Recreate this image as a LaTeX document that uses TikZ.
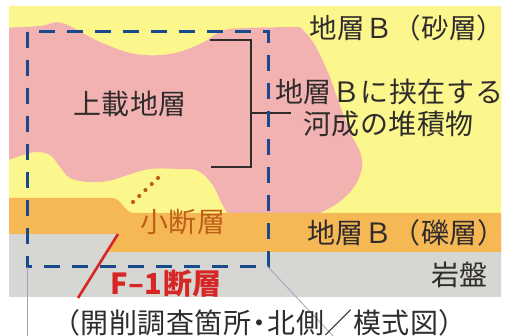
\documentclass[tikz,border=0pt]{standalone}
\usepackage{fontspec}
\usetikzlibrary{calc}
\newfontfamily\jp[LetterSpace=2]{Noto Sans CJK JP}
\newfontfamily\jphalf[RawFeature=+halt]{Noto Sans CJK JP}
\definecolor{sandY}{RGB}{252,247,140}
\definecolor{coverP}{RGB}{242,178,178}
\definecolor{gravelO}{RGB}{246,184,84}
\definecolor{rockG}{RGB}{214,214,210}
\definecolor{frameB}{RGB}{24,74,140}
\definecolor{faultR}{RGB}{214,38,38}
\definecolor{minorO}{RGB}{190,96,24}
\definecolor{inkD}{RGB}{48,44,44}
\definecolor{leadG}{RGB}{150,166,186}
\newcommand{\closeparen}{{\jphalf）}}
\begin{document}
\begin{tikzpicture}[x=1pt,y=-1pt,
  txt/.style={inner sep=0pt, anchor=west, text=inkD, font=\jp\fontsize{28pt}{28pt}\selectfont},
  framebox/.style={draw=frameB, line width=3pt, dash pattern=on 16pt off 12pt},
  bracketline/.style={draw=inkD, line width=2.2pt},
  leadline/.style={draw=leadG, line width=0.8pt}]
\useasboundingbox (0,0) rectangle (506,336);
\fill[white] (0,0) rectangle (506,336);

% cross-section layers
\begin{scope}
\clip (9,7) rectangle (501,297);
\fill[sandY] (0,0) rectangle (510,300);
% overlying deposits (pink)
\fill[coverP] (0,28) -- plot[smooth,tension=0.6] coordinates{(0,28) (40,26) (62,23) (100,42) (135,54) (170,54) (200,44) (222,31) (245,28) (298,27)}
  -- plot[smooth,tension=0.6] coordinates{(300,27) (313,42) (327,70) (338,100) (350,132) (360,152) (362,168) (354,187) (338,203) (318,214)}
  -- (318,222) -- (232,222)
  -- plot[smooth,tension=0.6] coordinates{(230,218) (222,204) (212,184) (198,171) (180,169) (150,169) (128,175) (108,181) (88,182) (70,178) (60,167) (50,155) (36,152) (20,156) (0,163)}
  -- cycle;
% bedrock
\fill[rockG] (0,233) rectangle (510,300);
% gravel layer, offset along the fault
\fill[gravelO] (0,198) -- (112,198) .. controls (122,198) and (124,213) .. (134,213) -- (510,213) -- (510,252) -- (107,252) -- (118,234) -- (0,234) -- cycle;
\end{scope}

% minor fault (dotted)
\coordinate (mfA) at (133,202);
\coordinate (mfB) at (158,178);
\foreach \t in {0,0.25,0.5,0.75,1}
  \fill[minorO] ($(mfA)!\t!(mfB)$) circle (2.1pt);

% F-1 fault
\coordinate (f1Low) at (78,298);
\coordinate (f1Top) at (118,234);
\draw[faultR, line width=2.6pt] (f1Low) -- (f1Top);

% bracket for the overlying deposits
\coordinate (brT) at (210,40);
\coordinate (brTc) at (251,40);
\coordinate (brB) at (211,167);
\coordinate (brBc) at (251,167);
\coordinate (brM) at (251,113);
\coordinate (brTip) at (291,113);
\draw[bracketline] (brT) -- (brTc) -- (brBc) -- (brB);
\draw[bracketline] (brM) -- (brTip);

% excavation frame
\coordinate (frNW) at (27,32);
\coordinate (frSE) at (268,267);
\coordinate (frSW) at (27,267);
\draw[framebox] (frNW) rectangle (frSE);

% lead lines below
\coordinate (leadL) at (27,336);
\coordinate (leadR) at (333,336);
\draw[leadline] (frSW) -- (leadL);
\draw[leadline] (frSE) -- (leadR);

% labels
\node[txt, font=\jp\fontsize{27.5pt}{27.5pt}\selectfont] (sand) at (309,28) {地層Ｂ（砂層\closeparen};
\node[txt] (river1) at (275,92) {地層Ｂに挟在する};
\node[txt] (river2) at (303,123.5) {河成の堆積物};
\node[txt] (cover) at (73,104) {上載地層};
\node[txt, text=minorO] (minor) at (140,222) {小断層};
\node[txt] (gravel) at (307,233) {地層Ｂ（礫層\closeparen};
\node[txt] (rock) at (431,275) {岩盤};
\node[txt, text=faultR, font=\jp\bfseries\fontsize{29pt}{29pt}\selectfont] (f1) at (110,283.5) {F–1断層};
\node[txt, anchor=center] (caption) at (259.5,322.5) {（開削調査箇所\kern-6pt・\kern-6pt北側／模式図）};
\end{tikzpicture}
\end{document}
